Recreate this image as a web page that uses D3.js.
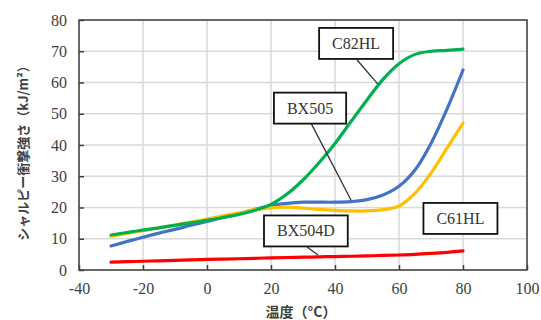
<!DOCTYPE html>
<html><head><meta charset="utf-8">
<script src="https://cdn.jsdelivr.net/npm/d3@7"></script>
<style>body{margin:0;background:#fff}</style>
</head><body>
<svg id="c" width="541" height="320"></svg>
<script>
const temps  = [-30,-25,-20,-15,-10,-5,0,5,10,15,20,25,30,35,40,45,50,55,60,65,70,75,80];
const c82hl  = [11.2,12.0,12.8,13.5,14.3,15.1,15.9,16.8,17.8,19.1,21.0,24.3,28.8,34.3,40.5,47.5,54.4,61.0,66.0,69.0,70.0,70.3,70.7];
const bx505  = [7.7,9.1,10.5,11.8,13.0,14.3,15.5,16.8,18.0,19.4,20.6,21.3,21.7,21.7,21.7,21.9,22.5,24.0,26.8,32.0,40.5,51.5,64.0];
const c61hl  = [10.8,11.7,12.6,13.5,14.4,15.3,16.3,17.3,18.3,19.3,19.9,20.1,19.8,19.4,19.1,18.9,18.9,19.3,20.5,24.5,31.0,39.0,47.0];
const bx504d = [2.5,2.65,2.8,2.95,3.1,3.25,3.4,3.5,3.6,3.75,3.9,4.0,4.1,4.2,4.3,4.4,4.5,4.65,4.8,5.0,5.3,5.65,6.1];
const xTicks = [-40,-20,0,20,40,60,80,100];
const yTicks = [0,10,20,30,40,50,60,70,80];
const seriesNames = ["BX505","C61HL","C82HL","BX504D"];
const seriesVals = [bx505, c61hl, c82hl, bx504d];
const seriesColors = ["#4472c4","#ffc000","#00b050","#ff0000"];
// annotation boxes: label, center (data), leader from/to (data)
const annLabels = ["C82HL","BX505","BX504D","C61HL"];
const annCenters = [[46.6,72.5],[32.2,51.8],[30.9,12.5],[79.2,16.5]];
const annLeaders = [[[46.9,67.2],[53.4,59.5]],[[32.5,47.0],[45,22.4]],[[31.25,7.36],[34.7,4.8]],null];

const svg = d3.select("#c");
const x = d3.scaleLinear().domain([-40,100]).range([79,527]);
const y = d3.scaleLinear().domain([0,80]).range([270,20]);

// gridlines
svg.append("g").selectAll("line").data(yTicks).join("line")
  .attr("x1",x(-40)).attr("x2",x(100)).attr("y1",d=>y(d)).attr("y2",d=>y(d))
  .attr("stroke","#d9d9d9").attr("stroke-width",1.5);
svg.append("g").selectAll("line").data(xTicks).join("line")
  .attr("y1",y(0)).attr("y2",y(80)).attr("x1",d=>x(d)).attr("x2",d=>x(d))
  .attr("stroke","#d9d9d9").attr("stroke-width",1.5);

// axes
const fmt = d => String(d);
const xAxis = svg.append("g").attr("transform",`translate(0,${y(0)})`)
  .call(d3.axisBottom(x).tickValues(xTicks).tickSize(-5).tickPadding(13).tickFormat(fmt));
const yAxis = svg.append("g").attr("transform",`translate(${x(-40)},0)`)
  .call(d3.axisLeft(y).tickValues(yTicks).tickSize(-5).tickPadding(12).tickFormat(fmt));
[xAxis,yAxis].forEach(a=>{
  a.select(".domain").remove();
  a.selectAll(".tick line").attr("stroke","#404040").attr("stroke-width",1.5);
  a.selectAll("text").attr("font-family","'Liberation Serif', serif").attr("font-size",16).attr("fill","#404040");
});
// frame
svg.append("rect").attr("x",x(-40)).attr("y",y(80)).attr("width",x(100)-x(-40)).attr("height",y(0)-y(80))
  .attr("fill","none").attr("stroke","#404040").attr("stroke-width",1.5);

// lines
const line = d3.line().x((d,i)=>x(temps[i])).y(d=>y(d)).curve(d3.curveCatmullRom.alpha(0.5));
svg.append("g").selectAll("path").data(seriesVals).join("path")
  .attr("d",line).attr("fill","none").attr("stroke",(d,i)=>seriesColors[i])
  .attr("stroke-width",3.2).attr("stroke-linecap","round");

// annotations
annLabels.forEach((lab,i)=>{
  const ld = annLeaders[i];
  if(ld){
    svg.append("line").attr("x1",x(ld[0][0])).attr("y1",y(ld[0][1])).attr("x2",x(ld[1][0])).attr("y2",y(ld[1][1]))
      .attr("stroke","#333").attr("stroke-width",1.3);
  }
  const g = svg.append("g");
  const t = g.append("text").attr("x",x(annCenters[i][0])).attr("y",y(annCenters[i][1]))
    .attr("text-anchor","middle").attr("dominant-baseline","central")
    .attr("font-family","'Liberation Serif', serif").attr("font-size",16).attr("fill","#333").text(lab);
  const bb = t.node().getBBox();
  g.insert("rect","text").attr("x",bb.x-13).attr("y",y(annCenters[i][1])-15.5).attr("width",bb.width+26).attr("height",31)
    .attr("fill","#fff").attr("stroke","#111").attr("stroke-width",1.8);
});

// axis titles
svg.append("text").attr("x",301).attr("y",311).attr("text-anchor","middle").attr("dominant-baseline","central")
  .attr("font-family","'Noto Sans CJK JP', sans-serif").attr("font-weight","bold").attr("font-size",14).attr("fill","#404040")
  .text("温度（°C）");
svg.append("text").attr("transform","translate(22,150) rotate(-90)").attr("text-anchor","middle").attr("dominant-baseline","central")
  .attr("font-family","'Noto Sans CJK JP', sans-serif").attr("font-weight","bold").attr("font-size",13).attr("fill","#404040")
  .text("シャルピー衝撃強さ（kJ/m²）");
</script>
</body></html>
